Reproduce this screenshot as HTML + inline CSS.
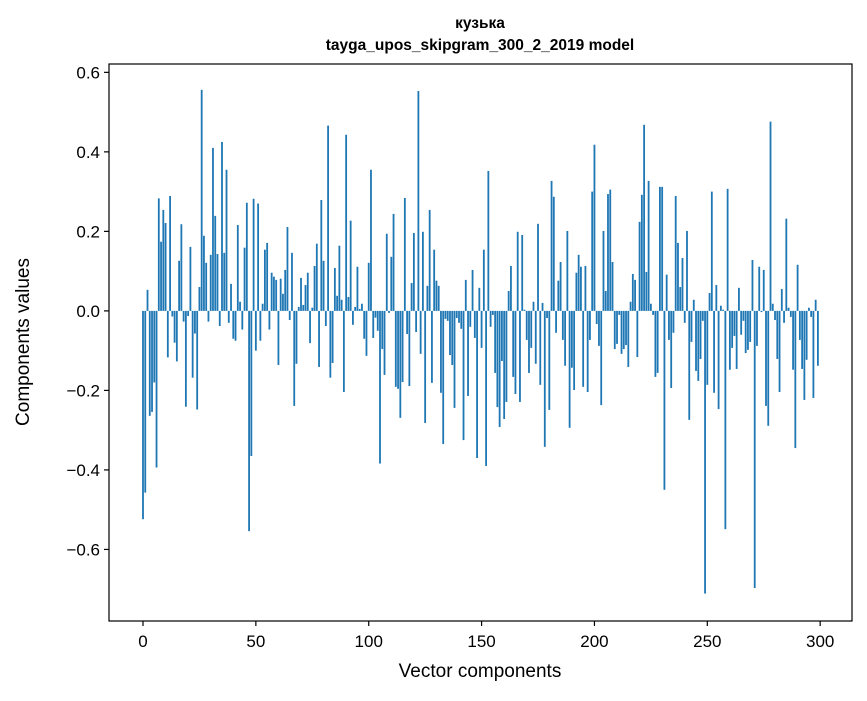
<!DOCTYPE html>
<html><head><meta charset="utf-8"><style>
body{margin:0;background:#fff;}
svg text{font-family:"Liberation Sans","DejaVu Sans",sans-serif;fill:#000;}
</style></head><body>
<svg id="chart" width="867" height="696" viewBox="0 0 867 696" xmlns="http://www.w3.org/2000/svg">
<rect width="867" height="696" fill="#fff"/>
<text x="480" y="28" text-anchor="middle" font-size="15.5" font-weight="bold">кузька</text>
<text x="480" y="50" text-anchor="middle" font-size="15.5" font-weight="bold">tayga_upos_skipgram_300_2_2019 model</text>
<g id="bars"></g>
<rect x="109" y="64" width="743" height="557" fill="none" stroke="#000" stroke-width="1.2"/>
<g id="xticks"></g>
<g id="yticks"></g>
<text x="480" y="677" text-anchor="middle" font-size="19">Vector components</text>
<text transform="translate(29,342) rotate(-90)" text-anchor="middle" font-size="19">Components values</text>
</svg>
<script>
const values = [
-0.524,-0.457,0.053,-0.264,-0.254,-0.18,-0.394,0.283,0.174,0.254,
0.221,-0.117,0.289,-0.014,-0.08,-0.127,0.126,0.218,-0.027,-0.241,
-0.013,0.161,-0.168,-0.057,-0.248,0.06,0.556,0.189,0.121,-0.027,
0.141,0.41,0.239,0.143,-0.038,0.425,0.146,0.355,-0.03,0.068,
-0.07,-0.075,0.216,0.023,-0.047,0.159,0.272,-0.554,-0.365,0.282,
-0.1,0.27,-0.075,0.018,0.154,0.171,-0.047,0.096,0.086,0.078,
-0.136,0.081,0.043,0.103,0.211,-0.023,0.146,-0.239,-0.133,0.01,
0.083,0.015,0.065,0.096,-0.081,0.008,0.113,0.169,-0.141,0.279,
0.126,-0.038,0.466,-0.168,-0.131,0.108,0.038,0.164,0.028,-0.204,
0.443,0.035,0.227,-0.035,0.01,0.111,0.005,0.018,-0.07,-0.113,
0.121,0.355,-0.068,-0.017,-0.05,-0.384,-0.096,-0.161,0.194,-0.005,
0.136,0.244,-0.191,-0.196,-0.269,-0.179,0.284,-0.058,-0.189,0.07,
0.196,-0.053,0.553,-0.108,0.199,-0.282,0.063,0.254,-0.181,0.154,
0.076,0.063,-0.206,-0.335,-0.02,-0.025,-0.111,-0.136,-0.244,-0.018,
-0.03,-0.045,-0.325,0.078,-0.214,-0.04,0.103,-0.068,-0.37,0.058,
-0.093,0.154,-0.39,0.352,-0.04,-0.01,-0.156,-0.242,-0.292,-0.126,
-0.272,-0.229,0.05,0.113,-0.166,-0.209,0.199,-0.229,0.191,0.003,
-0.073,-0.156,-0.093,0.023,-0.133,0.219,-0.186,0.02,-0.342,-0.018,
-0.249,0.327,0.287,-0.055,0.076,0.123,-0.073,-0.138,0.201,-0.294,
-0.143,-0.199,0.096,0.141,0.111,-0.191,0.113,-0.204,-0.073,0.3,
0.418,-0.033,-0.088,-0.237,0.201,0.05,0.294,0.305,0.123,-0.096,
-0.083,-0.01,-0.108,-0.096,-0.086,-0.141,0.023,0.093,0.078,-0.116,
0.224,0.292,0.468,0.098,0.327,0.018,-0.01,-0.166,-0.156,0.312,
0.312,-0.45,0.091,-0.073,-0.194,-0.055,0.289,0.171,0.06,0.133,
-0.03,0.201,-0.274,-0.078,0.028,-0.151,-0.176,-0.121,-0.025,-0.711,
-0.186,0.045,0.3,-0.206,0.065,-0.247,0.013,0.003,-0.549,0.307,
-0.148,-0.093,-0.063,-0.146,0.058,-0.06,-0.025,-0.106,-0.098,-0.078,
0.128,-0.697,-0.088,0.111,-0.003,0.103,-0.239,-0.289,0.476,0.018,
-0.023,-0.121,-0.204,0.055,-0.03,0.232,0.008,-0.015,-0.148,-0.345,
0.116,-0.073,-0.146,-0.224,-0.123,0.008,-0.015,-0.219,0.028,-0.138
];
const xTicks = [0,50,100,150,200,250,300];
const yTicks = [-0.6,-0.4,-0.2,0.0,0.2,0.4,0.6];
const yTickLabels = ["\u22120.6","\u22120.4","\u22120.2","0.0","0.2","0.4","0.6"];

const L=109,R=852,T=64,B=621;
const xMin=-15.06,xMax=314.1,yMin=-0.780,yMax=0.621;
const xs=v=>L+(v-xMin)/(xMax-xMin)*(R-L);
const ys=v=>B-(v-yMin)/(yMax-yMin)*(B-T);
const NS="http://www.w3.org/2000/svg";
const bars=document.getElementById('bars');
values.forEach((v,i)=>{
  const r=document.createElementNS(NS,'rect');
  const x0=xs(i-0.4),x1=xs(i+0.4);
  const y0=ys(Math.max(v,0)),y1=ys(Math.min(v,0));
  r.setAttribute('x',x0);r.setAttribute('width',x1-x0);
  r.setAttribute('y',y0);r.setAttribute('height',Math.max(y1-y0,0.01));
  r.setAttribute('fill','#1f77b4');
  
  
  bars.appendChild(r);
});
const xg=document.getElementById('xticks');
xTicks.forEach(t=>{
  const x=xs(t);
  const l=document.createElementNS(NS,'line');
  l.setAttribute('x1',x);l.setAttribute('x2',x);l.setAttribute('y1',B);l.setAttribute('y2',B+5);
  l.setAttribute('stroke','#000');l.setAttribute('stroke-width','1.2');
  
  
  xg.appendChild(l);
  const tx=document.createElementNS(NS,'text');
  tx.setAttribute('x',x);tx.setAttribute('y',B+26);tx.setAttribute('text-anchor','middle');tx.setAttribute('font-size','17');
  tx.textContent=String(t);
  
  
  xg.appendChild(tx);
});
const yg=document.getElementById('yticks');
yTicks.forEach((t,i)=>{
  const y=ys(t);
  const l=document.createElementNS(NS,'line');
  l.setAttribute('x1',L-5);l.setAttribute('x2',L);l.setAttribute('y1',y);l.setAttribute('y2',y);
  l.setAttribute('stroke','#000');l.setAttribute('stroke-width','1.2');
  
  
  yg.appendChild(l);
  const tx=document.createElementNS(NS,'text');
  tx.setAttribute('x',L-9);tx.setAttribute('y',y+6);tx.setAttribute('text-anchor','end');tx.setAttribute('font-size','17');
  tx.textContent=yTickLabels[i];
  
  
  yg.appendChild(tx);
});
</script>
</body></html>
